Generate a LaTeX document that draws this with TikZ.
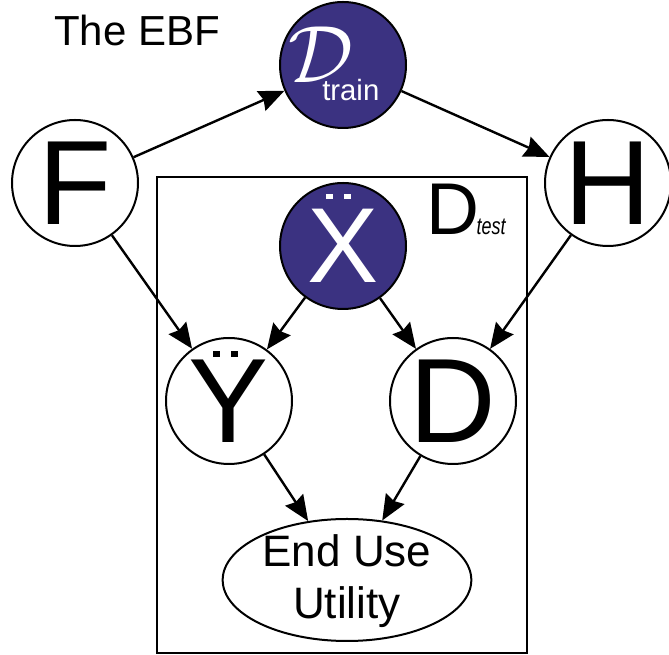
\documentclass[tikz,border=0pt]{standalone}
\usepackage{fontspec}
\setmainfont{Liberation Sans}
\usetikzlibrary{arrows.meta,shapes.geometric}
\definecolor{nodeblue}{RGB}{59,50,129}
\begin{document}
\begin{tikzpicture}[x=0.75pt,y=-0.75pt,
  var/.style={circle,draw=black,line width=1.5pt,fill=white,inner sep=0pt,minimum size=94.5pt},
  obs/.style={var,fill=nodeblue,text=white},
  big/.style={font=\fontsize{90}{90}\selectfont},
  plain/.style={inner sep=0pt},
  link/.style={-{Stealth[length=19pt,width=16pt,inset=2pt]},line width=1.8pt},
]
\useasboundingbox (0,0) rectangle (669,655);

% plate for the test data
\draw[line width=2pt] (157,177) rectangle (527,653);

% variables
\node[var,big] (F) at (75,183) {F};
\node[var,big] (H) at (608,183) {H};
\node[obs] (Dtr) at (343,65) {};
\node[obs,font=\fontsize{80}{80}\selectfont] (X) at (343,246) {X};
\node[var,big] (Y) at (229,401) {Y};
\node[var,big] (D) at (453,401) {D};
\node[ellipse,draw,line width=1.5pt,minimum width=186.5pt,minimum height=91.5pt,inner sep=0pt] (U) at (347,580) {};

% labels
\node[plain,text=white] (dcal) at (321,55)
  {\scalebox{2.45}{\fontsize{24}{24}\selectfont$\mathcal{D}$}};
\node[plain,anchor=base west,text=white,font=\fontsize{22}{22}\selectfont] (dsub) at (322,101) {train};
\node[plain,align=center,font=\fontsize{33}{39}\selectfont] (utext) at (347,581) {End Use\\Utility};
\node[plain,anchor=base west,font=\fontsize{31.5}{31.5}\selectfont] (title) at (54,46) {The EBF};
\node[plain,anchor=base west] (dtest) at (426,235)
  {\fontsize{55}{55}\selectfont D\kern-2pt\scalebox{0.75}[1]{\fontsize{18}{18}\selectfont\itshape test}};

% double dots over X and Y
\fill[white] ([shift={(-17,-52)}]X.center) rectangle ++(7,5);
\fill[white] ([shift={(1,-52)}]X.center) rectangle ++(7,5);
\fill ([shift={(-16,-50)}]Y.center) rectangle ++(7,6);
\fill ([shift={(2,-50)}]Y.center) rectangle ++(7,6);

% dependencies
\draw[link] (F) -- (Dtr);
\draw[link] (Dtr) -- (H);
\draw[link] (F) -- (Y);
\draw[link] (X) -- (Y);
\draw[link] (X) -- (D);
\draw[link] (H) -- (D);
\draw[link] (Y) -- (U);
\draw[link] (D) -- (U);
\end{tikzpicture}
\end{document}
